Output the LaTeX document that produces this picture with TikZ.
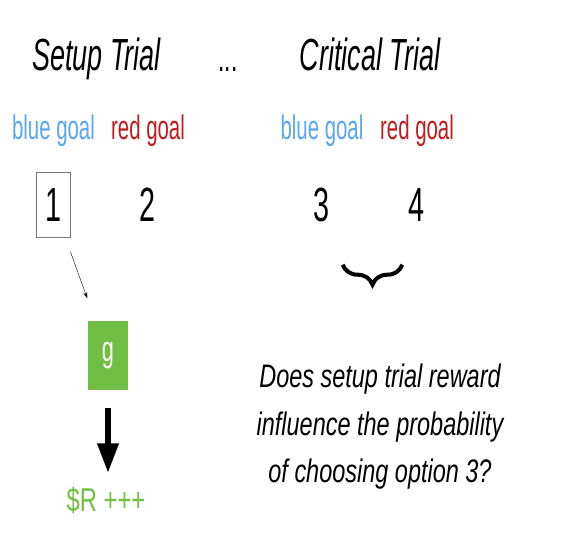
\documentclass[tikz,border=0pt]{standalone}
\usepackage{fontspec}
\setmainfont{Liberation Sans}
\newfontfamily\slim{Liberation Sans}[FakeStretch=0.6]
\newfontfamily\slimq{Liberation Sans}[FakeStretch=0.72]
\usetikzlibrary{arrows.meta,decorations.pathreplacing}
\definecolor{goalblue}{RGB}{88,166,245}
\definecolor{goalred}{RGB}{196,26,30}
\definecolor{goalgreen}{RGB}{112,190,68}
\definecolor{boxgray}{RGB}{120,120,120}
\tikzset{
  title/.style={anchor=base,font=\slim\itshape\fontsize{45}{50}\selectfont},
  goal/.style={anchor=base,font=\slim\fontsize{34}{40}\selectfont},
  num/.style={minimum width=33pt,minimum height=65pt,inner sep=0pt,font=\slim\fontsize{48}{50}\selectfont},
}
\begin{document}
\begin{tikzpicture}[x=1pt,y=1pt]
	\useasboundingbox (0,0) rectangle (583,545);
	\node[title] (setup) at (96.5,474) {Setup Trial};
	\node[anchor=base,font=\slim\fontsize{38}{40}\selectfont] (dots) at (228,473) {...};
	\node[title] (critical) at (370,474) {Critical Trial};
	\foreach \X/\Num/\Goal/\Col in {53.5/1/blue goal/goalblue,148/2/red goal/goalred,322/3/blue goal/goalblue,417/4/red goal/goalred}{
		\node[goal,text=\Col] (goal\Num) at (\X,405) {\Goal};
		\node[num] (n\Num) at (\X,340) {\Num};
	}
	\draw[boxgray,thick] (n1.south west) rectangle (n1.north east);
	\node[fill=goalgreen,text=white,minimum width=40pt,minimum height=69pt,inner sep=0pt,font=\slim\fontsize{36}{40}\selectfont] (g) at (108,189.5) {g};
	\node[anchor=base,inner sep=0pt,text=goalgreen,font=\slimq\fontsize{33}{36}\selectfont] (reward) at (106,33) {\$R +++};
	\draw[-{Stealth[length=6pt,width=4pt]},shorten <=15pt,shorten >=24pt] (n1) -- (g);
	\draw[line width=6.5pt,-{Triangle[length=30pt,width=20pt]},shorten <=18pt,shorten >=14pt] (g) -- (g |- reward.north);
	\draw[line width=4pt,decorate,decoration={brace,mirror,amplitude=20pt}] ([xshift=4pt,yshift=-27pt]n3.south east) -- ([xshift=2pt,yshift=-27pt]n4.south west);
	\node[align=center,font=\slimq\itshape\fontsize{32.6}{47.5}\selectfont] (question) at (380,118) {Does setup trial reward\\influence the probability\\of choosing option 3?};
\end{tikzpicture}
\end{document}
